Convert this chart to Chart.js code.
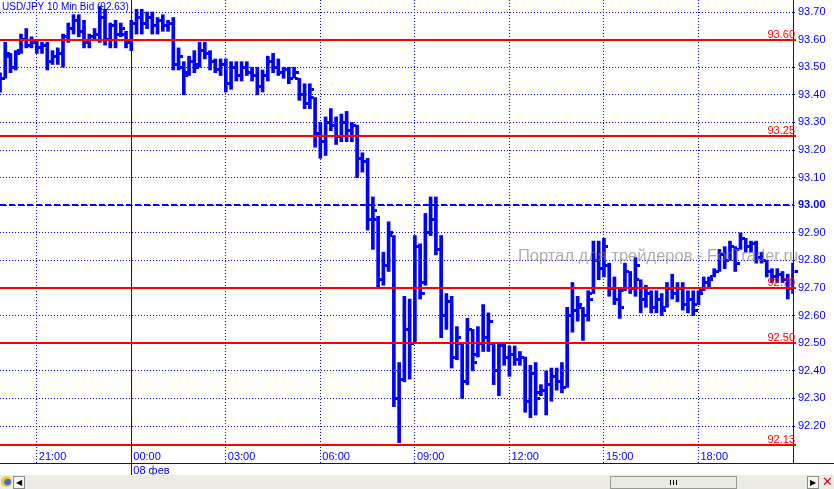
<!DOCTYPE html>
<html>
<head>
<meta charset="utf-8">
<script src="https://cdn.jsdelivr.net/npm/chart.js@4.4.1/dist/chart.umd.min.js"></script>
<style>
  html, body { margin: 0; padding: 0; background: #fff; }
  #marco { position: relative; width: 834px; height: 489px; overflow: hidden; background: #fff; }
  #grafico { position: absolute; left: 0; top: 0; }
  #barra { position: absolute; left: 0; top: 475px; width: 834px; height: 14px; background: #ecebe4; }
  #barra .icono { position: absolute; left: 1px; top: 1px; width: 11px; height: 11px; border-radius: 50%;
    background: radial-gradient(circle at 60% 55%, #3c74c8 0 35%, #f2c640 40% 100%); }
  #barra .boton { position: absolute; top: 1px; width: 10px; height: 11px; border: 1px solid #8c8c88; background: #f6f5f0;
    font: 8px "DejaVu Sans", sans-serif; line-height: 11px; text-align: center; color: #000; }
  #barra .pulgar { position: absolute; left: 610px; top: 1px; width: 125px; height: 11px; border: 1px solid #9a9a94; background: #e9e8e1; }
  #barra .agarre { position: absolute; left: 59px; top: 3px; width: 7px; height: 5px;
    background: repeating-linear-gradient(90deg, #000 0 1px, transparent 1px 3px); }
  #barra .cerrar { position: absolute; left: 822px; top: 0px; font: bold 13px "DejaVu Sans", sans-serif; color: #d01010; line-height: 14px; }
</style>
</head>
<body>
<div id="marco">
  <canvas id="grafico" width="834" height="475" style="width:834px;height:475px"></canvas>
  <div id="barra">
    <div class="icono"></div>
    <div class="boton" style="left:13px">&#9664;</div>
    <div class="pulgar"><div class="agarre"></div></div>
    <div class="boton" style="left:807px">&#9654;</div>
    <div class="cerrar">&#10005;</div>
  </div>
</div>
<script>
// Barras de 10 minutos: desde las 19:50 del 07 feb hasta las 21:00 del 08 feb
const inicioMinutos = 19 * 60 + 50;
const numBarras = 152;
const tiempos = [];
for (let i = 0; i < numBarras; i++) {
  const m = (inicioMinutos + i * 10) % 1440;
  tiempos.push(String(Math.floor(m / 60)).padStart(2, '0') + ':' + String(m % 60).padStart(2, '0'));
}

// Marcas del eje de tiempo y del eje de precios
const marcasTiempo = ['21:00', '00:00', '03:00', '06:00', '09:00', '12:00', '15:00', '18:00'];
const etiquetaFecha = '08 фев';
const marcasPrecio = [92.2, 92.3, 92.4, 92.5, 92.6, 92.7, 92.8, 92.9, 93.0, 93.1, 93.2, 93.3, 93.4, 93.5, 93.6, 93.7];

// Niveles horizontales
const nivelesRojos = [93.60, 93.25, 92.70, 92.50, 92.13];
const nivelAzul = 93.00;

const titulo = 'USD/JPY 10 Min Bid (92.63)';
const marcaAgua = 'Портал для трейдеров - ForTrader.ru';

// Datos OHLC
const maximos = [
  93.48, 93.59, 93.55, 93.56, 93.62, 93.64, 93.61, 93.60, 93.59, 93.59,
  93.56, 93.57, 93.62, 93.66, 93.69, 93.69, 93.67, 93.62, 93.64, 93.72,
  93.71, 93.66, 93.67, 93.66, 93.63, 93.67, 93.71, 93.71, 93.70, 93.70,
  93.68, 93.69, 93.67, 93.68, 93.57, 93.52, 93.54, 93.56, 93.59, 93.59,
  93.56, 93.53, 93.53, 93.53, 93.52, 93.52, 93.52, 93.52, 93.50, 93.50,
  93.49, 93.54, 93.55, 93.53, 93.50, 93.50, 93.50, 93.46, 93.44, 93.44,
  93.39, 93.30, 93.32, 93.35, 93.32, 93.33, 93.34, 93.30, 93.29, 93.19,
  93.17, 93.03, 92.96, 92.83, 92.94, 92.89, 92.43, 92.67, 92.66, 92.89,
  92.86, 92.97, 93.03, 93.03, 92.89, 92.68, 92.67, 92.56, 92.50, 92.59,
  92.55, 92.56, 92.64, 92.61, 92.50, 92.50, 92.50, 92.49, 92.49, 92.47,
  92.45, 92.42, 92.43, 92.35, 92.40, 92.41, 92.41, 92.43, 92.63, 92.72,
  92.67, 92.63, 92.69, 92.87, 92.87, 92.88, 92.79, 92.74, 92.70, 92.79,
  92.76, 92.81, 92.73, 92.71, 92.69, 92.69, 92.68, 92.72, 92.75, 92.72,
  92.72, 92.69, 92.69, 92.69, 92.74, 92.74, 92.77, 92.84, 92.85, 92.87,
  92.85, 92.90, 92.88, 92.87, 92.87, 92.83, 92.80, 92.77, 92.77, 92.76,
  92.75, 92.79
];
const minimos = [
  93.41, 93.46, 93.48, 93.49, 93.55, 93.57, 93.57, 93.55, 93.55, 93.49,
  93.51, 93.51, 93.50, 93.59, 93.62, 93.61, 93.57, 93.57, 93.60, 93.59,
  93.58, 93.57, 93.57, 93.61, 93.57, 93.56, 93.62, 93.62, 93.64, 93.62,
  93.62, 93.63, 93.63, 93.49, 93.49, 93.40, 93.47, 93.48, 93.50, 93.53,
  93.49, 93.48, 93.47, 93.41, 93.42, 93.45, 93.45, 93.47, 93.45, 93.40,
  93.41, 93.45, 93.48, 93.47, 93.46, 93.44, 93.46, 93.38, 93.35, 93.35,
  93.21, 93.17, 93.18, 93.27, 93.22, 93.23, 93.23, 93.23, 93.10, 93.12,
  92.91, 92.84, 92.70, 92.71, 92.76, 92.27, 92.14, 92.36, 92.37, 92.50,
  92.66, 92.71, 92.89, 92.82, 92.52, 92.55, 92.41, 92.44, 92.30, 92.35,
  92.40, 92.45, 92.47, 92.47, 92.35, 92.31, 92.42, 92.38, 92.42, 92.42,
  92.25, 92.23, 92.24, 92.31, 92.24, 92.29, 92.33, 92.32, 92.34, 92.54,
  92.58, 92.51, 92.58, 92.68, 92.73, 92.74, 92.67, 92.64, 92.59, 92.69,
  92.68, 92.67, 92.61, 92.63, 92.61, 92.61, 92.60, 92.63, 92.66, 92.65,
  92.62, 92.61, 92.60, 92.64, 92.69, 92.70, 92.74, 92.76, 92.77, 92.80,
  92.76, 92.84, 92.83, 92.83, 92.79, 92.79, 92.74, 92.72, 92.72, 92.72,
  92.66, 92.68
];
const aperturas = [
  93.42, 93.46, 93.54, 93.50, 93.56, 93.60, 93.58, 93.59, 93.57, 93.58,
  93.52, 93.54, 93.55, 93.61, 93.64, 93.67, 93.63, 93.59, 93.61, 93.62,
  93.68, 93.60, 93.65, 93.62, 93.62, 93.59, 93.66, 93.68, 93.66, 93.68,
  93.65, 93.67, 93.65, 93.66, 93.51, 93.50, 93.48, 93.52, 93.51, 93.56,
  93.55, 93.52, 93.49, 93.51, 93.44, 93.50, 93.47, 93.50, 93.48, 93.47,
  93.43, 93.47, 93.52, 93.50, 93.48, 93.49, 93.46, 93.46, 93.40, 93.37,
  93.39, 93.26, 93.23, 93.30, 93.29, 93.25, 93.30, 93.27, 93.29, 93.17,
  93.16, 92.95, 92.95, 92.73, 92.78, 92.89, 92.30, 92.37, 92.55, 92.50,
  92.85, 92.72, 92.90, 92.95, 92.84, 92.60, 92.65, 92.45, 92.50, 92.36,
  92.55, 92.46, 92.50, 92.52, 92.50, 92.40, 92.49, 92.45, 92.46, 92.44,
  92.45, 92.29, 92.39, 92.32, 92.33, 92.35, 92.38, 92.36, 92.34, 92.60,
  92.62, 92.63, 92.60, 92.68, 92.80, 92.77, 92.78, 92.70, 92.66, 92.69,
  92.76, 92.70, 92.73, 92.66, 92.68, 92.63, 92.66, 92.63, 92.70, 92.68,
  92.70, 92.64, 92.66, 92.64, 92.69, 92.72, 92.74, 92.76, 92.82, 92.80,
  92.85, 92.84, 92.88, 92.85, 92.86, 92.81, 92.80, 92.76, 92.74, 92.75,
  92.73, 92.70
];
const cierres = [
  93.46, 93.55, 93.50, 93.55, 93.60, 93.58, 93.59, 93.57, 93.58, 93.52,
  93.54, 93.55, 93.61, 93.64, 93.67, 93.63, 93.59, 93.61, 93.62, 93.68,
  93.60, 93.65, 93.62, 93.64, 93.59, 93.66, 93.68, 93.66, 93.68, 93.65,
  93.67, 93.65, 93.66, 93.51, 93.54, 93.47, 93.52, 93.50, 93.56, 93.55,
  93.52, 93.49, 93.51, 93.44, 93.50, 93.47, 93.50, 93.48, 93.47, 93.43,
  93.47, 93.52, 93.50, 93.48, 93.49, 93.46, 93.48, 93.40, 93.37, 93.42,
  93.26, 93.23, 93.30, 93.29, 93.25, 93.30, 93.27, 93.29, 93.17, 93.16,
  92.95, 92.98, 92.73, 92.78, 92.90, 92.30, 92.37, 92.55, 92.50, 92.85,
  92.68, 92.90, 92.95, 92.84, 92.60, 92.65, 92.45, 92.52, 92.36, 92.55,
  92.43, 92.50, 92.52, 92.58, 92.40, 92.49, 92.45, 92.46, 92.44, 92.45,
  92.29, 92.39, 92.30, 92.33, 92.35, 92.38, 92.36, 92.34, 92.60, 92.62,
  92.64, 92.60, 92.66, 92.80, 92.77, 92.85, 92.70, 92.66, 92.63, 92.76,
  92.70, 92.78, 92.66, 92.68, 92.63, 92.66, 92.62, 92.70, 92.68, 92.70,
  92.64, 92.66, 92.62, 92.68, 92.72, 92.73, 92.76, 92.82, 92.80, 92.85,
  92.79, 92.88, 92.85, 92.86, 92.81, 92.80, 92.76, 92.74, 92.75, 92.73,
  92.70, 92.76
];

const AZUL = '#0000ff';
const ROJO = '#ff0000';
const FUENTE = '"Liberation Sans", Arial, sans-serif';

// Marcas de apertura (izquierda) y cierre (derecha) como imagen de punto
function crearMarca(izquierda) {
  const c = document.createElement('canvas');
  c.width = 9;
  c.height = 3;
  const g = c.getContext('2d');
  g.fillStyle = AZUL;
  g.fillRect(izquierda ? 0 : 6, 0, 3, 3);
  return c;
}

const esMedianoche = (ctx) => ctx.tick && tiempos[ctx.tick.value] === '00:00';

// Lineas de nivel, separador del dia, titulo y marca de agua
const pluginNiveles = {
  id: 'niveles',
  afterDatasetsDraw(chart) {
    const { ctx, chartArea: area, scales: { x, y } } = chart;
    ctx.save();
    // separador de medianoche
    const xMedia = Math.round(x.getPixelForValue(tiempos.indexOf('00:00'))) + 0.5;
    ctx.strokeStyle = AZUL;
    ctx.lineWidth = 1;
    ctx.beginPath();
    ctx.moveTo(xMedia, area.top);
    ctx.lineTo(xMedia, chart.height);
    ctx.stroke();

    const yAzul = Math.round(y.getPixelForValue(nivelAzul));
    ctx.lineWidth = 2;
    ctx.setLineDash([6, 3]);
    ctx.beginPath();
    ctx.moveTo(area.left, yAzul);
    ctx.lineTo(area.right, yAzul);
    ctx.stroke();
    ctx.setLineDash([]);

    ctx.strokeStyle = ROJO;
    ctx.fillStyle = ROJO;
    ctx.font = '11px ' + FUENTE;
    ctx.textAlign = 'right';
    ctx.textBaseline = 'alphabetic';
    nivelesRojos.forEach(v => {
      const py = Math.round(y.getPixelForValue(v));
      ctx.beginPath();
      ctx.moveTo(area.left, py);
      ctx.lineTo(area.right + 3, py);
      ctx.stroke();
      ctx.fillText(v.toFixed(2), area.right + 2, py - 2);
    });
    ctx.restore();
  },
  afterDraw(chart) {
    const { ctx, chartArea: area, width } = chart;
    ctx.save();
    // linea del eje de tiempo
    ctx.strokeStyle = AZUL;
    ctx.lineWidth = 1;
    ctx.beginPath();
    ctx.moveTo(0, area.bottom + 0.5);
    ctx.lineTo(width, area.bottom + 0.5);
    ctx.stroke();

    ctx.fillStyle = AZUL;
    ctx.font = '10px ' + FUENTE;
    ctx.textAlign = 'left';
    ctx.textBaseline = 'alphabetic';
    ctx.fillText(titulo, 2, 10);

    ctx.fillStyle = 'rgba(135, 118, 118, 0.62)';
    ctx.font = '16.5px ' + FUENTE;
    ctx.fillText(marcaAgua, 518, 261);
    ctx.restore();
  }
};

const ctxGrafico = document.getElementById('grafico').getContext('2d');
const grafico = new Chart(ctxGrafico, {
  type: 'bar',
  data: {
    labels: tiempos,
    datasets: [
      {
        type: 'line',
        label: 'Apertura',
        data: aperturas,
        showLine: false,
        pointStyle: crearMarca(true),
        pointRadius: 2,
        order: 1
      },
      {
        type: 'line',
        label: 'Cierre',
        data: cierres,
        showLine: false,
        pointStyle: crearMarca(false),
        pointRadius: 2,
        order: 1
      },
      {
        type: 'bar',
        label: 'Rango',
        data: minimos.map((m, i) => [m, maximos[i]]),
        backgroundColor: AZUL,
        borderWidth: 0,
        barThickness: 3,
        order: 2
      }
    ]
  },
  options: {
    responsive: false,
    animation: false,
    events: [],
    layout: { padding: 0, autoPadding: false },
    plugins: {
      legend: { display: false },
      tooltip: { enabled: false }
    },
    scales: {
      x: {
        type: 'category',
        offset: false,
        grid: {
          offset: false,
          color: (ctx) => esMedianoche(ctx) ? 'rgba(0,0,0,0)' : AZUL,
          lineWidth: 1,
          drawTicks: true,
          tickLength: 12,
          tickColor: 'rgba(0,0,0,0)'
        },
        border: {
          display: false,
          dash: [1, 2]
        },
        ticks: {
          autoSkip: false,
          maxRotation: 0,
          minRotation: 0,
          align: 'start',
          mirror: true,
          labelOffset: 2,
          padding: -1,
          color: AZUL,
          font: { family: FUENTE, size: 11 },
          callback: (valor) => tiempos[valor] === '00:00' ? ['00:00', etiquetaFecha] : tiempos[valor]
        },
        afterBuildTicks: (eje) => {
          eje.ticks = eje.ticks.filter(t => marcasTiempo.includes(tiempos[t.value]) && tiempos.indexOf(tiempos[t.value]) === t.value);
        },
        afterFit: (eje) => {
          eje.height = 12;
          eje.paddingLeft = 0;
          eje.paddingRight = 0;
        }
      },
      y: {
        position: 'right',
        min: 92.066,
        max: 93.7435,
        grid: {
          color: AZUL,
          lineWidth: 1,
          tickLength: 3,
          tickColor: AZUL,
          tickBorderDash: [1, 2]
        },
        border: { display: true, color: AZUL, dash: [1, 2] },
        ticks: {
          padding: 2,
          color: AZUL,
          font: (ctx) => ({ family: FUENTE, size: 11, weight: ctx.tick && ctx.tick.value === 93 ? 'bold' : 'normal' }),
          callback: (v) => v.toFixed(2)
        },
        afterBuildTicks: (eje) => {
          eje.ticks = marcasPrecio.map(v => ({ value: v }));
        },
        afterFit: (eje) => {
          eje.width = 41;
          eje.paddingTop = 0;
          eje.paddingBottom = 0;
        }
      }
    }
  },
  plugins: [pluginNiveles]
});
</script>
</body>
</html>
